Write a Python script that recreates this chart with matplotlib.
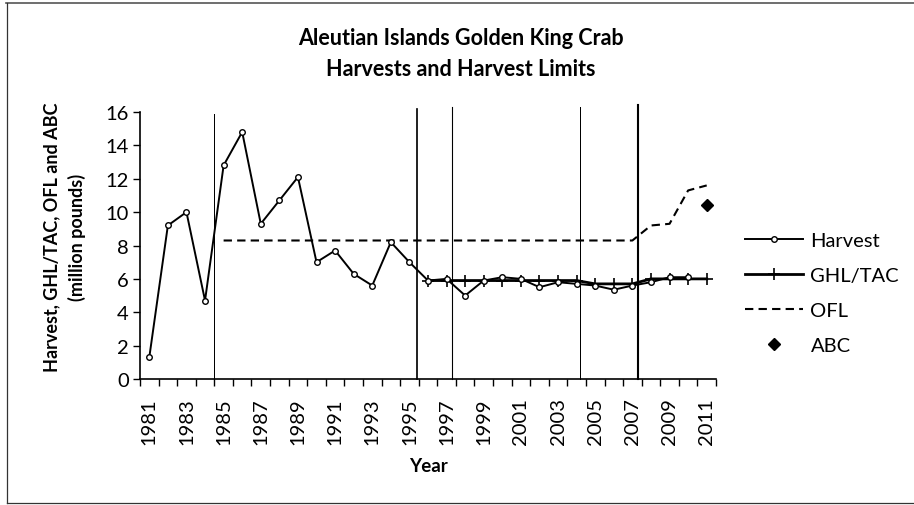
import matplotlib
matplotlib.use("Agg")
import matplotlib.pyplot as plt
from matplotlib.lines import Line2D

# data (million pounds)
harvest_years = list(range(1981, 2011))
harvest = [1.3, 9.2, 10.0, 4.7, 12.8, 14.8, 9.3, 10.7, 12.1, 7.0,
           7.7, 6.3, 5.6, 8.2, 7.0, 5.9, 6.0, 5.0, 5.9, 6.1,
           6.0, 5.5, 5.8, 5.7, 5.6, 5.35, 5.6, 5.8, 6.1, 6.1]

ghl_years = list(range(1996, 2012))
ghl = [5.9, 5.9, 5.9, 5.9, 5.9, 5.9, 5.9, 5.9, 5.9,
       5.7, 5.7, 5.7, 6.0, 6.0, 6.0, 6.0]

ofl_years = list(range(1985, 2012))
ofl = [8.3] * 23 + [9.2, 9.3, 11.3, 11.6]

abc_years = [2011]
abc = [10.4]

# management period boundaries (vertical lines)
period_lines = [1984.5, 1995.4, 1997.3, 2004.2, 2007.3]
period_tops = [15.9, 16.2, 16.3, 16.3, 16.4]
period_widths = [1.0, 1.7, 1.1, 1.0, 2.1]

tick_years = list(range(1981, 2012, 2))


def create_chart(filename):
    plt.rcParams['font.family'] = ['Lato', 'DejaVu Sans']
    fig = plt.figure(figsize=(9.14, 5.06), dpi=100)
    ax = fig.add_axes([140 / 914, 1 - 380 / 506, 576 / 914, 267 / 506])

    for x, top, w in zip(period_lines, period_tops, period_widths):
        ax.plot([x, x], [0, top], color='black', lw=w * 0.72, clip_on=False, zorder=1)

    ax.plot(ofl_years, ofl, color='black', lw=1.5, linestyle=(0, (4, 2.5)),
            label='OFL', zorder=2)
    ax.plot(ghl_years, ghl, color='black', lw=2.0, marker='+', markersize=8,
            markeredgewidth=1.2, label='GHL/TAC', zorder=3)
    ax.plot(harvest_years, harvest, color='black', lw=1.4, marker='o', markersize=4,
            markerfacecolor='white', markeredgecolor='black', markeredgewidth=1.0,
            label='Harvest', zorder=4)
    ax.plot(abc_years, abc, linestyle='none', marker='D', markersize=6.5,
            color='black', label='ABC', zorder=5)

    ax.set_xlim(1980.5, 2011.5)
    ax.set_ylim(0, 16)
    ax.set_yticks(range(0, 17, 2))
    ax.set_xticks(tick_years)
    ax.set_xticklabels([str(y) for y in tick_years], rotation=90)
    ax.set_xticks([y + 0.5 for y in range(1980, 2012)], minor=True)
    ax.tick_params(axis='x', which='major', length=0, pad=13, labelsize=14.5)
    ax.tick_params(axis='x', which='minor', length=5, width=1, direction='out')
    ax.tick_params(axis='y', length=5, width=1, direction='out', labelsize=14.5, pad=3)

    for side in ['top', 'right']:
        ax.spines[side].set_visible(False)
    for side in ['left', 'bottom']:
        ax.spines[side].set_linewidth(1.2)

    ax.set_xlabel('Year', fontsize=13.5, fontweight='bold', labelpad=9)
    ax.set_ylabel('Harvest, GHL/TAC, OFL and ABC\n(million pounds)', fontsize=13,
                  fontweight='bold', linespacing=1.5)
    ax.yaxis.set_label_coords(-0.094, 0.535)

    fig.text(461 / 914, 1 - 54 / 506,
             'Aleutian Islands Golden King Crab\nHarvests and Harvest Limits',
             ha='center', va='center', fontsize=15.5, fontweight='bold', linespacing=1.6)

    # legend order as in the reference
    handles, labels = ax.get_legend_handles_labels()
    order = ['Harvest', 'GHL/TAC', 'OFL', 'ABC']
    hmap = dict(zip(labels, handles))
    fig.legend([hmap[k] for k in order], order, loc='center left',
               bbox_to_anchor=(745 / 914, 1 - 294 / 506), frameon=False,
               fontsize=14.5, handlelength=2.9, handletextpad=0.35,
               labelspacing=0.9, borderpad=0, borderaxespad=0)

    # scanned page border
    fig.add_artist(Line2D([6 / 914, 1], [1 - 4 / 506, 1 - 4 / 506], color='#555555', lw=1.2))
    fig.add_artist(Line2D([7 / 914, 7 / 914], [1 - 4 / 506, 1 - 504 / 506], color='#333333', lw=0.9))
    fig.add_artist(Line2D([7 / 914, 1], [1 - 504 / 506, 1 - 504 / 506], color='#333333', lw=0.9))

    fig.savefig(filename, dpi=100)


def main():
    create_chart("out.png")


main()
